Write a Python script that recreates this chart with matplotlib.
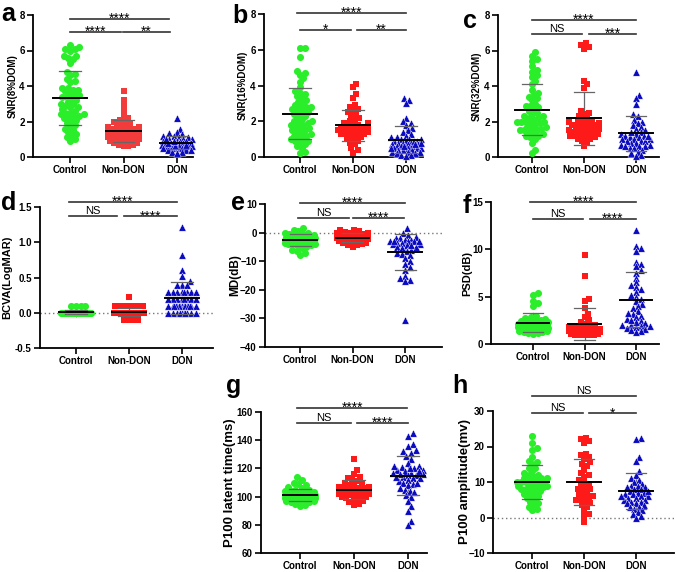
import numpy as np
from matplotlib import pyplot as plt

plt.rcParams['font.family'] = ['Liberation Sans', 'DejaVu Sans']

groups = ['Control', 'Non-DON', 'DON']
colors = ['#2AEE2A', '#FF1A1A', '#0A0AC0']
markers = ['o', 's', '^']

# ---- values (one list per group) ----
a_control = [6.3, 6.2, 6.1, 6.1, 6.0, 5.7, 5.7, 5.6, 5.5, 5.3, 4.8, 4.7, 4.6, 4.4, 4.2, 3.9, 3.8, 3.8,
             3.7, 3.6, 3.5, 3.4, 3.4, 3.3, 3.2, 3.1, 3.0, 3.0, 2.9, 2.8, 2.7, 2.6, 2.5, 2.5, 2.4, 2.4,
             2.3, 2.3, 2.2, 2.2, 2.1, 2.0, 1.9, 1.8, 1.7, 1.6, 1.5, 1.4, 1.3, 1.2, 1.1, 1.0, 0.9, 3.5,
             2.8, 3.9, 4.3]
a_nondon = [3.7, 3.2, 2.9, 2.6, 2.3, 2.1, 2.0, 2.0, 1.9, 1.8, 1.8, 1.7, 1.7, 1.6, 1.6, 1.6, 1.5, 1.5,
            1.5, 1.4, 1.4, 1.4, 1.4, 1.3, 1.3, 1.3, 1.3, 1.2, 1.2, 1.2, 1.2, 1.1, 1.1, 1.1, 1.1, 1.0,
            1.0, 1.0, 0.9, 0.9, 0.8, 0.8, 0.7, 0.7, 0.6, 0.6, 1.5, 1.6, 1.3, 1.2, 1.0, 0.9, 2.2, 1.7, 1.4]
a_don = [2.2, 1.6, 1.4, 1.35, 1.3, 1.2, 1.2, 1.1, 1.1, 1.0, 1.0, 1.0, 0.9, 0.9, 0.9, 0.9, 0.8, 0.8,
         0.8, 0.8, 0.8, 0.7, 0.7, 0.7, 0.7, 0.7, 0.7, 0.6, 0.6, 0.6, 0.6, 0.6, 0.5, 0.5, 0.5, 0.5,
         0.4, 0.4, 0.4, 0.3, 0.3, 0.2, 0.8, 0.6, 0.7, 0.9, 1.0]

b_control = [6.1, 6.1, 5.6, 4.8, 4.7, 4.6, 4.4, 4.2, 3.9, 3.7, 3.6, 3.5, 3.4, 3.2, 3.1, 3.0, 2.9, 2.8,
             2.8, 2.7, 2.6, 2.5, 2.4, 2.3, 2.2, 2.1, 2.0, 2.0, 1.9, 1.8, 1.7, 1.6, 1.6, 1.5, 1.4, 1.3,
             1.3, 1.2, 1.1, 1.0, 1.0, 0.9, 0.8, 0.7, 0.6, 0.5, 0.3, 0.25, 2.8, 1.5, 2.6, 1.8, 3.3, 0.9,
             1.2, 2.4, 1.9]
b_nondon = [4.1, 3.9, 3.5, 3.3, 2.9, 2.8, 2.7, 2.6, 2.5, 2.4, 2.3, 2.2, 2.0, 1.9, 1.8, 1.8, 1.7, 1.7,
            1.7, 1.6, 1.6, 1.5, 1.5, 1.5, 1.4, 1.4, 1.4, 1.3, 1.3, 1.2, 1.2, 1.1, 1.0, 1.0, 0.9, 0.8,
            0.7, 0.5, 0.4, 0.25, 1.6, 1.5, 1.7, 1.9, 1.3, 2.1]
b_don = [3.3, 3.2, 3.0, 2.2, 2.0, 1.9, 1.8, 1.6, 1.5, 1.4, 1.3, 1.2, 1.1, 1.0, 1.0, 1.0, 0.9, 0.9, 0.9,
         0.8, 0.8, 0.8, 0.7, 0.7, 0.7, 0.6, 0.6, 0.6, 0.5, 0.5, 0.5, 0.5, 0.4, 0.4, 0.4, 0.3, 0.3, 0.3,
         0.2, 0.2, 0.1, 0.1, 0.05, 0.6, 0.8, 1.1, 0.9, 0.7, 0.5]

c_control = [5.9, 5.7, 5.5, 5.4, 5.1, 4.9, 4.8, 4.6, 4.5, 4.3, 4.1, 2.9, 2.0, 3.8, 3.6, 3.5, 3.4, 3.3,
             3.2, 3.0, 2.9, 2.8, 2.7, 2.6, 2.5, 2.4, 2.3, 2.2, 2.2, 2.1, 2.0, 1.9, 1.8, 1.7, 1.6, 1.6,
             1.5, 1.4, 1.3, 1.2, 1.1, 1.0, 0.8, 0.4, 0.2, 2.0, 2.0, 1.9, 1.7, 2.3, 1.5, 1.3, 1.5, 1.2]
c_nondon = [6.4, 6.3, 6.2, 6.1, 4.3, 4.1, 3.9, 2.0, 1.8, 1.4, 1.1, 2.6, 2.5, 2.4, 2.3, 2.2, 2.1, 2.0,
            2.0, 1.9, 1.9, 1.8, 1.8, 1.7, 1.7, 1.6, 1.6, 1.5, 1.5, 1.4, 1.4, 1.3, 1.3, 1.2, 1.2, 1.1,
            1.0, 0.9, 0.8, 0.6, 1.2, 1.0, 1.8, 1.5, 1.3]
c_don = [4.8, 3.5, 3.3, 3.0, 2.4, 2.3, 2.1, 2.0, 1.9, 1.8, 1.7, 1.6, 1.5, 1.4, 1.3, 1.3, 1.2, 1.2, 1.1,
         1.1, 1.0, 1.0, 1.0, 0.9, 0.9, 0.8, 0.8, 0.7, 0.7, 0.6, 0.6, 0.5, 0.5, 0.4, 0.3, 0.2, 0.1,
         0.05, 1.4, 0.9, 1.2, 0.6]

d_control = [0.1] * 4 + [0.0] * 55
d_nondon = [0.22] + [0.1] * 8 + [0.0] * 40 + [-0.1] * 4
d_don = [1.22, 0.82, 0.6, 0.52, 0.45, 0.4, 0.4, 0.4] + [0.3] * 8 + [0.2] * 8 + [0.1] * 15 + [0.0] * 10

e_control = [1.5, 1.0, 0.5, 0, 0, -0.5, -0.5, -1, -1, -1, -1.5, -1.5, -1.5, -2, -2, -2, -2, -2.5, -2.5,
             -2.5, -2.5, -3, -3, -3, -3, -3.5, -3.5, -3.5, -4, -4, -4, -4.5, -4.5, -5, -5.5, -6, -6.5,
             -7, -8, -2, -3, -1.5, -2.5, -3.5]
e_nondon = [1.0, 0.8, 0.5, 0.3, 0, 0, -0.3, -0.5, -0.5, -0.8, -1, -1, -1, -1.3, -1.3, -1.5, -1.5, -1.5,
            -1.8, -1.8, -2, -2, -2, -2.3, -2.3, -2.5, -2.5, -2.8, -3, -3, -3.3, -3.5, -3.8, -4, -4.3,
            -4.5, -5, -1.2, -1.7, -2.1, -0.7]
e_don = [1.5, 0, -1, -1.5, -2, -2, -2.5, -2.5, -3, -3, -3, -3.5, -3.5, -4, -4, -4.5, -5, -5, -5.5, -6,
         -6.5, -7, -7.5, -8, -9, -10, -11, -12, -13, -15, -16, -16.5, -17, -30.5, -3, -2.8, -4.2]

f_control = [5.4, 5.2, 4.5, 4.3, 4.0, 3.0, 2.8, 2.7, 2.6, 2.5, 2.5, 2.4, 2.4, 2.3, 2.3, 2.2, 2.2, 2.1,
             2.1, 2.0, 2.0, 2.0, 1.9, 1.9, 1.8, 1.8, 1.8, 1.7, 1.7, 1.6, 1.6, 1.5, 1.5, 1.4, 1.4, 1.3,
             1.3, 1.2, 1.2, 1.1, 2.1, 1.9, 1.6, 2.2]
f_nondon = [9.4, 7.2, 4.8, 4.5, 3.8, 3.2, 2.8, 2.5, 2.3, 2.1, 2.0, 1.9, 1.8, 1.8, 1.7, 1.7, 1.6, 1.6,
            1.5, 1.5, 1.5, 1.4, 1.4, 1.4, 1.3, 1.3, 1.3, 1.2, 1.2, 1.2, 1.1, 1.1, 1.1, 1.0, 1.0, 1.0,
            0.9, 0.9, 1.5, 1.3, 1.6]
f_don = [12.0, 10.4, 10.1, 9.8, 8.7, 8.5, 8.2, 7.8, 7.5, 7.0, 6.5, 6.2, 6.0, 5.8, 5.5, 5.2, 5.0, 4.8,
         4.5, 4.2, 4.0, 3.8, 3.5, 3.2, 3.0, 2.8, 2.6, 2.4, 2.2, 2.0, 2.0, 1.9, 1.8, 1.7, 1.6, 1.5, 1.4,
         1.3, 2.3, 1.9, 2.5, 3.3]

g_control = [114, 112, 110, 109, 108, 107, 106, 105, 105, 104, 104, 103, 103, 103, 102, 102, 102, 101,
             101, 101, 101, 100, 100, 100, 100, 99, 99, 99, 99, 98, 98, 98, 98, 97, 97, 97, 96, 96, 95,
             94, 93, 100, 101, 99, 102, 98, 100]
g_nondon = [127, 119, 116, 114, 113, 112, 111, 110, 109, 108, 108, 107, 107, 106, 106, 105, 105, 105,
            104, 104, 104, 103, 103, 103, 102, 102, 102, 101, 101, 100, 100, 99, 99, 98, 97, 96, 95, 94,
            103, 104, 106, 101]
g_don = [145, 143, 137, 136, 133, 132, 131, 129, 127, 124, 122, 121, 120, 119, 119, 118, 117, 117, 116,
         115, 115, 114, 113, 112, 111, 110, 109, 108, 106, 105, 104, 103, 101, 100, 97, 93, 90, 83, 80,
         118, 116, 114, 120, 113, 122, 110]

h_control = [23, 21, 19.5, 19, 17, 16, 15.5, 15, 14, 14, 13, 12.5, 12, 12, 11.5, 11, 11, 10.5, 10.5, 10,
             10, 10, 9.5, 9.5, 9, 9, 8.5, 8.5, 8, 8, 7.5, 7, 7, 6.5, 6, 6, 5.5, 5, 4.5, 4, 3.5, 3, 2.5,
             2, 10, 9, 11, 8]
h_nondon = [22.5, 22, 21.5, 21, 18, 17.5, 17, 16.5, 15.5, 14.5, 13.5, 12, 11.5, 10.5, 10, 9.5, 9, 8.5,
            8, 7.5, 7, 6.5, 6, 6, 5.5, 5, 5, 4.5, 4, 3.5, 3, 2, 1, 0.5, -1.3, 12.5, 8, 15]
h_don = [22.5, 22, 17, 16, 13, 12, 11, 10.5, 10, 9.5, 9, 9, 8.5, 8, 8, 7.5, 7, 7, 6.5, 6.5, 6, 6, 5.5,
         5.5, 5, 5, 4.5, 4.5, 4, 4, 3.5, 3, 3, 2.5, 2, 1.5, 1, 0.5, 0, 7.5, 6, 8.5]

ylabels = ['SNR(8%DOM)', 'SNR(16%DOM)', 'SNR(32%DOM)', 'BCVA(LogMAR)', 'MD(dB)', 'PSD(dB)',
           'P100 latent time(ms)', 'P100 amplitude(mv)']
yticks = [[0, 2, 4, 6, 8], [0, 2, 4, 6, 8], [0, 2, 4, 6, 8], [-0.5, 0.0, 0.5, 1.0, 1.5],
          [-40, -30, -20, -10, 0, 10], [0, 5, 10, 15], [60, 80, 100, 120, 140, 160],
          [-10, 0, 10, 20, 30]]
sig = [['****', '****', '**'], ['****', '*', '**'], ['****', 'NS', '***'], ['****', 'NS', '****'],
       ['****', 'NS', '****'], ['****', 'NS', '****'], ['****', 'NS', '****'], ['NS', 'NS', '*']]
data = [[a_control, a_nondon, a_don], [b_control, b_nondon, b_don], [c_control, c_nondon, c_don],
        [d_control, d_nondon, d_don], [e_control, e_nondon, e_don], [f_control, f_nondon, f_don],
        [g_control, g_nondon, g_don], [h_control, h_nondon, h_don]]

# ---- layout (pixels): left, right, top, bottom, x of Control, x of DON ----
W, H = 676, 572
boxes = [(33, 193, 15, 157, 70, 177), (264, 423, 14, 157, 300, 406), (498, 659, 15, 157, 532, 636),
         (40, 213, 207, 348, 76, 182), (265, 442, 204, 347, 300, 405), (491, 659, 202, 344, 533, 636),
         (261, 427, 412, 553, 300, 408), (493, 674, 411, 553, 532, 636)]
letters = ['a', 'b', 'c', 'd', 'e', 'f', 'g', 'h']
letter_xy = [(1, 21), (232, 23), (463, 28), (1, 210), (231, 210), (463, 213), (226, 393), (452, 393)]
ylab_x = [13, 243, 477, 7, 235, 467, 230, 465]
ylab_size = [7, 7, 7, 8, 8.5, 8, 9.5, 9.5]
zero_line = [False, False, False, True, True, False, False, True]
br_y = [(7.77, 7.04), (8.06, 7.1), (7.72, 6.93), (1.57, 1.37), (10.35, 5.1), (15.0, 13.2),
        (162.8, 152.2), (34.2, 29.4)]
br_x = [[(0, 1.85), (0, 0.95), (0.99, 1.87)], [(-0.05, 2.0), (0, 0.97), (1.07, 2.0)],
        [(0, 2), (0, 0.97), (1.1, 2)], [(-0.13, 1.9), (-0.13, 0.77), (0.9, 1.9)],
        [(0, 2), (-0.03, 0.93), (1.0, 1.98)], [(-0.05, 2), (0, 0.97), (1.1, 2)],
        [(-0.05, 1.98), (-0.05, 0.95), (1.05, 2)], [(0, 2), (0, 0.98), (1.1, 2)]]


def swarm(vals, ppy, ppx, d=4.6, wmax=16.0):
    '''beeswarm offsets (in x data units) for one group'''
    vals = np.asarray(vals, dtype=float)
    cands = [0.0]
    step = d / 3
    k = 1
    while k * step <= wmax:
        cands += [k * step, -k * step]
        k += 1
    placed = []
    offs = np.zeros(len(vals))
    for i in np.argsort(vals, kind='stable'):
        y = vals[i] * ppy
        best = None
        bestd, bestc = -1, 0.0
        for cx in cands:
            md = min((np.hypot(cx - px, y - py) for px, py in placed), default=1e9)
            if md >= d:
                best = cx
                break
            if md > bestd:
                bestd, bestc = md, cx
        if best is None:
            best = bestc
        placed.append((best, y))
        offs[i] = best / ppx
    return offs


fig = plt.figure(figsize=(W / 100, H / 100), dpi=100)

for p in range(8):
    L, R, T, B, c0, c2 = boxes[p]
    unit = (c2 - c0) / 2
    ax = fig.add_axes([L / W, 1 - B / H, (R - L) / W, (B - T) / H])
    ymin, ymax = yticks[p][0], yticks[p][-1]
    ax.set_ylim(ymin, ymax)
    ax.set_xlim((L - c0) / unit, (R - c0) / unit)
    ppy = (B - T) / (ymax - ymin)

    if zero_line[p]:
        ax.axhline(0, color='#777777', lw=1, ls=(0, (1, 2)), zorder=1)

    for g in range(3):
        vals = np.array(data[p][g], dtype=float)
        xs = g + swarm(vals, ppy, unit)
        if markers[g] == '^':
            ax.scatter(xs, vals, s=28, marker='^', color=colors[g], edgecolors='white',
                       linewidths=0.3, zorder=3, clip_on=False)
        elif markers[g] == 's':
            col = '#F23C3C' if p == 0 else colors[g]
            ax.scatter(xs, vals, s=22, marker='s', color=col, linewidths=0, zorder=3, clip_on=False)
        else:
            ax.scatter(xs, vals, s=26, marker='o', color=colors[g], linewidths=0, zorder=3,
                       clip_on=False)
        m, sd = vals.mean(), vals.std(ddof=1)
        ax.plot([g, g], [m - sd, m + sd], color='#666666', lw=0.9, zorder=2)
        for yy in (m - sd, m + sd):
            ax.plot([g - 0.2, g + 0.2], [yy, yy], color='#666666', lw=0.9, zorder=4)
        ax.plot([g - 0.32, g + 0.32], [m, m], color='black', lw=1.4, zorder=5)

    # significance brackets
    ytop, ylow = br_y[p]
    for j, (x0, x1) in enumerate(br_x[p]):
        yy = ytop if j == 0 else ylow
        ax.plot([x0, x1], [yy, yy], color='#333333', lw=1.2, clip_on=False, zorder=6)
        txt = sig[p][j]
        if txt == 'NS':
            ax.annotate(txt, xy=((x0 + x1) / 2, yy), xytext=(0, 1.5), textcoords='offset points',
                        ha='center', va='baseline', fontsize=8, annotation_clip=False)
        else:
            ax.annotate(txt, xy=((x0 + x1) / 2, yy), xytext=(0, -3), textcoords='offset points',
                        ha='center', va='baseline', fontsize=10, annotation_clip=False)

    ax.spines['top'].set_visible(False)
    ax.spines['right'].set_visible(False)
    for s in ('left', 'bottom'):
        ax.spines[s].set_linewidth(1.3)
    ax.set_xticks([0, 1, 2])
    ax.set_xticklabels(groups, fontsize=7, fontweight='bold')
    ax.set_yticks(yticks[p])
    if p == 3:
        ax.set_yticklabels(['%.1f' % v for v in yticks[p]])
    ax.tick_params(axis='both', direction='out', length=4, width=1.2, labelsize=7, pad=2)
    for lab in ax.get_yticklabels():
        lab.set_fontweight('bold')

    fig.text(ylab_x[p] / W, 1 - ((T + B) / 2) / H, ylabels[p], rotation=90, ha='center',
             va='center', fontsize=ylab_size[p], fontweight='bold')
    lx, ly = letter_xy[p]
    fig.text(lx / W, 1 - ly / H, letters[p], fontsize=18, fontweight='bold', ha='left',
             va='baseline')

fig.savefig('out.png', dpi=100)
